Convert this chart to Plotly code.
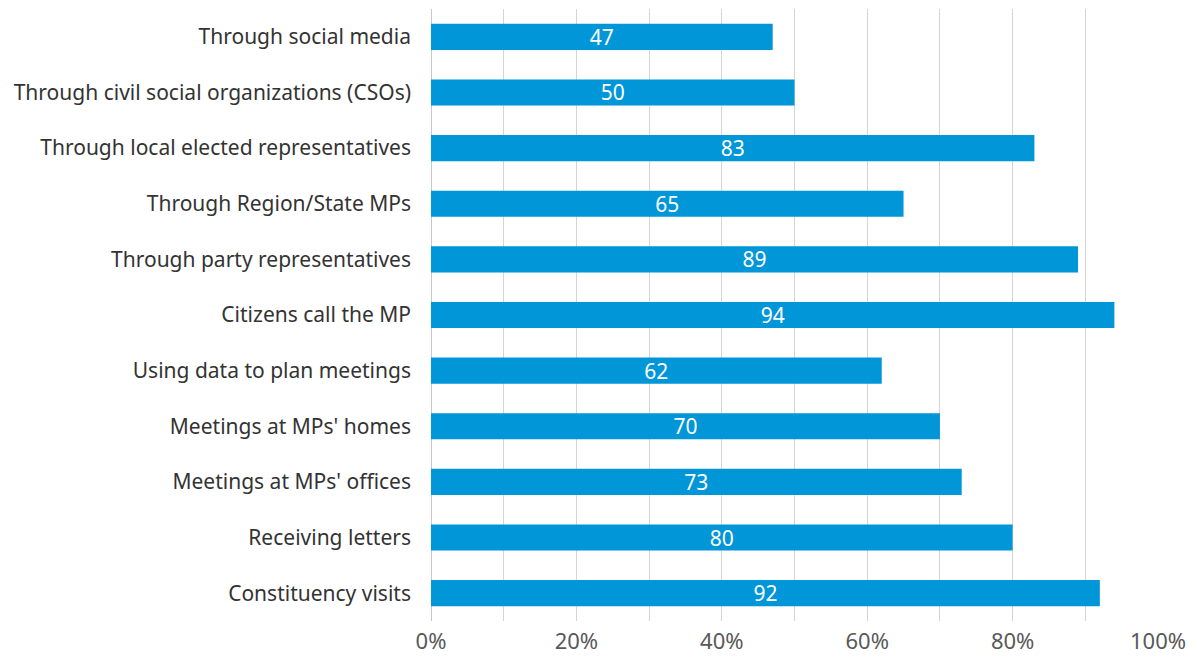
import plotly.graph_objects as go

categories = [
    "Through social media",
    "Through civil social organizations (CSOs)",
    "Through local elected representatives",
    "Through Region/State MPs",
    "Through party representatives",
    "Citizens call the MP",
    "Using data to plan meetings",
    "Meetings at MPs' homes",
    "Meetings at MPs' offices",
    "Receiving letters",
    "Constituency visits",
]
values = [47, 50, 83, 65, 89, 94, 62, 70, 73, 80, 92]
grid_vals = list(range(0, 101, 10))
tick_text = ["0%", "", "20%", "", "40%", "", "60%", "", "80%", "", "100%"]

fig = go.Figure(go.Bar(
    x=values, y=categories, orientation="h",
    marker=dict(color="#0096D8", line=dict(width=0)),
    width=0.47,
    text=[str(v) for v in values],
    textposition="inside", insidetextanchor="middle",
    textangle=0, constraintext="none",
    textfont=dict(color="white", size=21, family="Noto Sans"),
    cliponaxis=False,
))

fig.update_layout(
    width=1189, height=651,
    margin=dict(l=423, r=39, t=1, b=38),
    paper_bgcolor="white", plot_bgcolor="white",
    font=dict(family="Noto Sans", color="#333333"),
    showlegend=False,
)
fig.update_xaxes(
    range=[0, 100],
    tickvals=grid_vals, ticktext=tick_text,
    showgrid=True, gridcolor="#d4d4d4", gridwidth=1,
    zeroline=True, zerolinecolor="#c8c8c8", zerolinewidth=1,
    tickfont=dict(size=22, color="#595959"),
    ticks="", ticklabelstandoff=5,
    automargin=False,
)
fig.update_yaxes(
    categoryorder="array", categoryarray=categories, autorange="reversed",
    tickfont=dict(size=21, color="#333333"),
    ticks="", ticklabelstandoff=19, showgrid=False,
    automargin=False,
)

fig.write_html("out.html")
